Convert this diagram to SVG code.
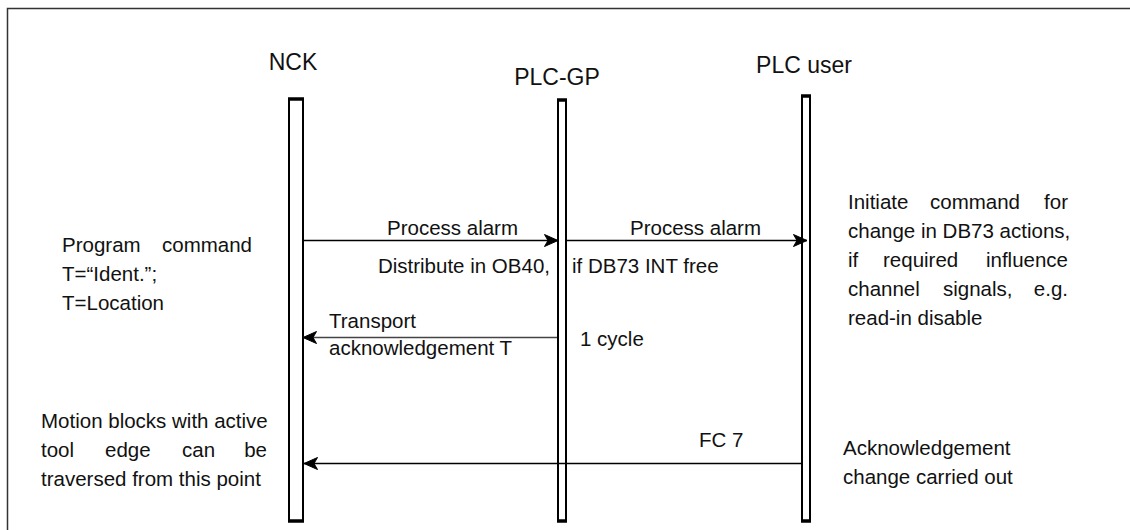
<svg xmlns="http://www.w3.org/2000/svg" width="1130" height="530" viewBox="0 0 1130 530">
  <style>
    .t { font-family: "Liberation Sans", Arial, sans-serif; font-size: 20.5px; fill: #111; }
    .h { font-family: "Liberation Sans", Arial, sans-serif; font-size: 23px; fill: #111; text-anchor: middle; }
    .life { fill: #fff; stroke: #000; stroke-width: 2; }
    .cap { stroke: #000; stroke-width: 3.5; }
    .msg { stroke: #000; stroke-width: 1.3; fill: none; marker-end: url(#arr); }
    .msg.grey { stroke: #444; stroke-width: 1.6; }
    .end { text-anchor: end; }
  </style>
  <defs>
    <marker id="arr" viewBox="0 0 16 16" refX="15" refY="8" markerWidth="16" markerHeight="16" markerUnits="userSpaceOnUse" orient="auto">
      <path d="M1.5,2 L15,8 L1.5,14 L5,8 Z" fill="#000" stroke="#000" stroke-width="1" stroke-linejoin="miter"/>
    </marker>
  </defs>
  <rect width="1130" height="530" fill="#fff"/>

  <!-- frame -->
  <path d="M7.5,530 V8.5 H1130" fill="none" stroke="#333" stroke-width="1.5"/>

  <!-- NCK lifeline -->
  <g id="nck">
    <text class="h" x="293" y="70">NCK</text>
    <rect class="life" x="289" y="99" width="14" height="422"/>
    <line class="cap" x1="288" y1="99" x2="304" y2="99"/>
    <line class="cap" x1="288" y1="521" x2="304" y2="521"/>
  </g>

  <!-- PLC-GP lifeline -->
  <g id="plc-gp">
    <text class="h" x="557" y="85">PLC-GP</text>
    <rect class="life" x="558" y="100" width="8" height="421"/>
    <line class="cap" x1="557" y1="100" x2="567" y2="100"/>
    <line class="cap" x1="557" y1="521" x2="567" y2="521"/>
  </g>

  <!-- PLC user lifeline -->
  <g id="plc-user">
    <text class="h" x="804" y="73">PLC user</text>
    <rect class="life" x="802" y="96" width="8" height="425"/>
    <line class="cap" x1="801" y1="96" x2="811" y2="96"/>
    <line class="cap" x1="801" y1="521" x2="811" y2="521"/>
  </g>

  <!-- messages -->
  <g id="connectors">
    <line class="msg" x1="302" y1="240.5" x2="558" y2="240.5"/>
    <line class="msg" x1="566" y1="240.5" x2="807" y2="240.5"/>
    <line class="msg grey" x1="557" y1="337.5" x2="303" y2="337.5"/>
    <line class="msg" x1="802" y1="463.5" x2="304" y2="463.5"/>
  </g>

  <!-- message labels -->
  <g id="labels">
    <text class="t" x="387" y="235">Process alarm</text>
    <text class="t" x="630" y="235">Process alarm</text>
    <text class="t end" x="550" y="273">Distribute in OB40,</text>
    <text class="t" x="572" y="273">if DB73 INT free</text>
    <text class="t" x="329" y="328">Transport</text>
    <text class="t" x="329" y="355">acknowledgement T</text>
    <text class="t" x="580" y="346">1 cycle</text>
    <text class="t" x="699" y="447">FC 7</text>
  </g>

  <!-- NCK side notes -->
  <g id="note-program">
    <text class="t" x="62" y="252">Program</text>
    <text class="t end" x="252" y="252">command</text>
    <text class="t" x="62" y="281">T=“Ident.”;</text>
    <text class="t" x="62" y="310">T=Location</text>
  </g>
  <g id="note-motion">
    <text class="t" x="41" y="428">Motion blocks with active</text>
    <text class="t" x="41" y="457">tool</text>
    <text class="t" x="105" y="457">edge</text>
    <text class="t" x="182" y="457">can</text>
    <text class="t end" x="267" y="457">be</text>
    <text class="t" x="41" y="486">traversed from this point</text>
  </g>

  <!-- PLC user side notes -->
  <g id="note-initiate">
    <text class="t" x="848" y="209">Initiate</text>
    <text class="t" x="930" y="209">command</text>
    <text class="t end" x="1068" y="209">for</text>
    <text class="t" x="848" y="238">change in DB73 actions,</text>
    <text class="t" x="848" y="267">if</text>
    <text class="t" x="883" y="267">required</text>
    <text class="t end" x="1068" y="267">influence</text>
    <text class="t" x="848" y="296">channel</text>
    <text class="t" x="943" y="296">signals,</text>
    <text class="t end" x="1068" y="296">e.g.</text>
    <text class="t" x="848" y="325">read-in disable</text>
  </g>
  <g id="note-ack">
    <text class="t" x="843" y="455">Acknowledgement</text>
    <text class="t" x="843" y="484">change carried out</text>
  </g>
</svg>
